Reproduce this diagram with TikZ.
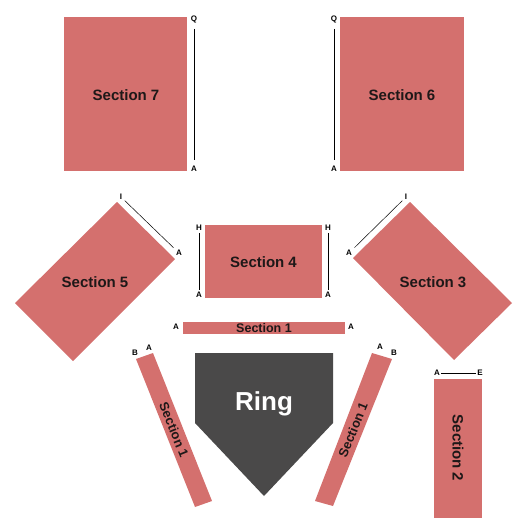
\documentclass[tikz,border=0pt]{standalone}
\usepackage{fontspec}
\setmainfont{Liberation Sans}
\usetikzlibrary{positioning}
\definecolor{seatred}{HTML}{D4706E}
\definecolor{ringgray}{HTML}{4A4949}
\definecolor{seatink}{HTML}{1E1818}

\begin{document}
\begin{tikzpicture}[
  x=1pt, y=-1pt,
  seat/.style={fill=seatred},
  secname/.style={font=\bfseries\fontsize{15}{18}\selectfont, text=seatink, inner sep=0pt},
  smallname/.style={secname, font=\bfseries\fontsize{12.5}{15}\selectfont},
  stripname/.style={secname, font=\bfseries\fontsize{13}{15}\selectfont},
  rowlbl/.style={font=\bfseries\fontsize{8}{9}\selectfont, inner sep=1pt},
  rowline/.style={draw=black, line width=0.8pt}
]
\useasboundingbox (0,0) rectangle (525,525);

% upper blocks
\fill[seat] (64,17) rectangle (187,171);
\node[secname] (sec7) at (126,95) {Section 7};
\node[rowlbl] (sec7q) at (194,19) {Q};
\node[rowlbl] (sec7a) at (194,169) {A};
\draw[rowline, shorten <=5pt, shorten >=5pt] (sec7q) -- (sec7a);

\fill[seat] (340,17) rectangle (464,171);
\node[secname] (sec6) at (402,95) {Section 6};
\node[rowlbl] (sec6q) at (334,19) {Q};
\node[rowlbl] (sec6a) at (334,169) {A};
\draw[rowline, shorten <=5pt, shorten >=5pt] (sec6q) -- (sec6a);

% angled blocks
\fill[seat] (117,202) -- (175,259) -- (73,361) -- (15,303) -- cycle;
\node[secname] (sec5) at (95,282) {Section 5};
\node[rowlbl] (sec5i) at (121,197) {I};
\node[rowlbl] (sec5a) at (179,253) {A};
\draw[rowline, line width=0.5pt, shorten <=2pt, shorten >=2pt] (sec5i) -- (sec5a);

\fill[seat] (410,202) -- (512,303) -- (454,360) -- (353,258) -- cycle;
\node[secname] (sec3) at (433,282) {Section 3};
\node[rowlbl] (sec3i) at (406,197) {I};
\node[rowlbl] (sec3a) at (349,253) {A};
\draw[rowline, line width=0.5pt, shorten <=2pt, shorten >=2pt] (sec3i) -- (sec3a);

% centre block
\fill[seat] (205,225) rectangle (322,298);
\node[secname] (sec4) at (263.5,262) {Section 4};
\node[rowlbl] (sec4hl) at (199,228) {H};
\node[rowlbl] (sec4al) at (199,295) {A};
\draw[rowline, shorten <=1.5pt, shorten >=1.5pt] (sec4hl) -- (sec4al);
\node[rowlbl] (sec4hr) at (328,228) {H};
\node[rowlbl] (sec4ar) at (328,295) {A};
\draw[rowline, shorten <=1.5pt, shorten >=1.5pt] (sec4hr) -- (sec4ar);

% ringside rows
\fill[seat] (183,322) rectangle (345,334);
\node[smallname] (sec1top) at (264,328) {Section 1};
\node[rowlbl] (sec1al) at (176,327) {A};
\node[rowlbl] (sec1ar) at (351,327) {A};

\fill[seat] (136,359) -- (153,353) -- (212,501) -- (195,507) -- cycle;
\node[stripname, rotate=-68] (sec1left) at (174,430) {Section 1};
\node[rowlbl] (sec1lb) at (135,353) {B};
\node[rowlbl] (sec1la) at (149,348) {A};

\fill[seat] (372,353) -- (392,359) -- (333,506) -- (315,501) -- cycle;
\node[stripname, rotate=68] (sec1right) at (353,430) {Section 1};
\node[rowlbl] (sec1ra) at (380,347) {A};
\node[rowlbl] (sec1rb) at (394,353) {B};

% ring
\fill[ringgray] (195,353) -- (333,353) -- (333,423) -- (264,496) -- (195,423) -- cycle;
\node[font=\bfseries\fontsize{26}{30}\selectfont, text=white] (ring) at (264,404) {Ring};

% side block
\fill[seat] (434,379) rectangle (482,518);
\node[secname, rotate=-90] (sec2) at (458,448) {Section 2};
\node[rowlbl] (sec2a) at (437,373) {A};
\node[rowlbl] (sec2e) at (480,373) {E};
\draw[rowline] (sec2a) -- (sec2e);

\end{tikzpicture}
\end{document}
